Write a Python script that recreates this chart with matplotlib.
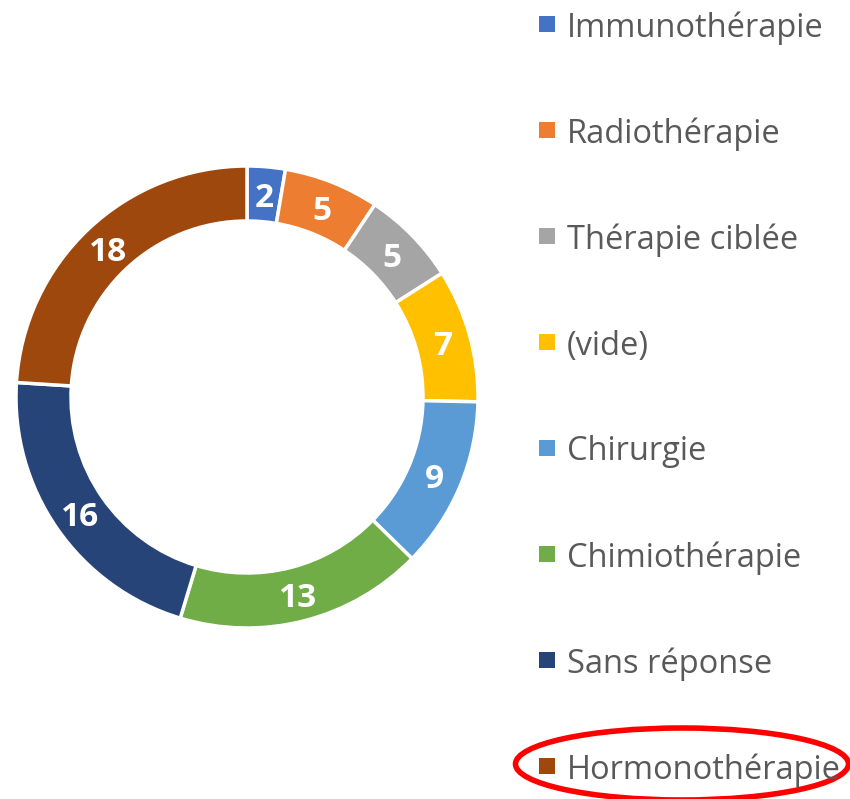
import matplotlib
matplotlib.use("Agg")
import matplotlib.pyplot as plt
from matplotlib.patches import Rectangle, Ellipse

categories = ["Immunothérapie", "Radiothérapie", "Thérapie ciblée", "(vide)",
              "Chirurgie", "Chimiothérapie", "Sans réponse", "Hormonothérapie"]
values = [2, 5, 5, 7, 9, 13, 16, 18]
colors = ["#4472C4", "#ED7D31", "#A5A5A5", "#FFC000",
          "#5B9BD5", "#70AD47", "#264478", "#9E480E"]

W, H = 850, 799
fig = plt.figure(figsize=(W / 100, H / 100), dpi=100)

cx, cy, R = 247, 397, 231
ax = fig.add_axes([(cx - R) / W, (H - cy - R) / H, 2 * R / W, 2 * R / H])
width = 55 / R
wedges, texts = ax.pie(values, colors=colors, startangle=90, counterclock=False,
                       radius=1, wedgeprops=dict(width=width, edgecolor="white", linewidth=2.5),
                       labels=[str(v) for v in values], labeldistance=1 - width / 2,
                       textprops=dict(color="white", fontsize=24, fontweight="bold",
                                      family="Open Sans", ha="center", va="center_baseline"))
ax.set_xlim(-1, 1)
ax.set_ylim(-1, 1)
ax.set_aspect("equal")
ax.axis("off")

# legend
for i, (lab, col) in enumerate(zip(categories, colors)):
    yc = 24 + 106 * i
    fig.patches.append(Rectangle(((539) / W, (H - yc - 8) / H), 16 / W, 16 / H,
                                 transform=fig.transFigure, facecolor=col, edgecolor="none"))
    fig.text(567 / W, (H - yc) / H, lab, fontsize=23.5, family="Open Sans",
             color="#595959", ha="left", va="center_baseline")

fig.patches.append(Ellipse((682 / W, (H - 764) / H), 333 / W, 72 / H,
                           transform=fig.transFigure, facecolor="none",
                           edgecolor="#FF0000", linewidth=4))

fig.savefig("out.png", dpi=100)
